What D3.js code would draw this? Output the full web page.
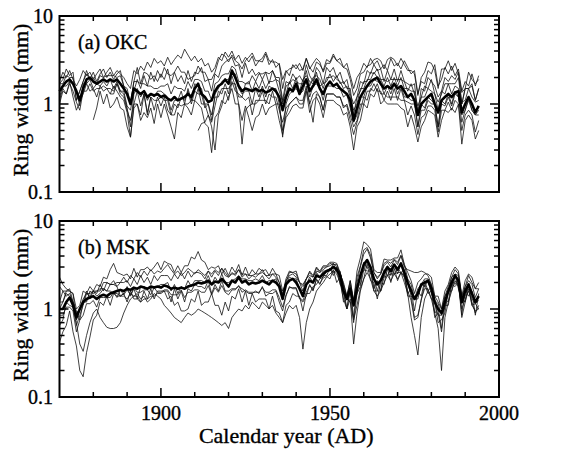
<!DOCTYPE html>
<html><head><meta charset="utf-8">
<script src="https://cdn.jsdelivr.net/npm/d3@7"></script>
<style>html,body{margin:0;padding:0;background:#fff;}svg{display:block;}</style>
</head><body>
<script>
// ---------- DATA ----------
const firstYear = 1870;
const xTickLabels = [1900, 1950, 2000];
const yTickLabels = ["0.1", "1", "10"];
const panelLabels = ["(a) OKC", "(b) MSK"];

// Panel (a) OKC: bold mean chronology, 1870-1994
const okcMean = [1.4,1.6,1.8,1.9,1.7,1.4,1.1,1.5,1.9,2.0, 1.8,1.7,1.8,1.9,1.8,1.9,1.8,1.9,1.7,1.5,
 1.3,1.0,1.5,1.4,1.3,1.4,1.2,1.3,1.25,1.3, 1.2,1.25,1.15,1.1,1.2,1.1,1.15,1.2,1.3,1.2,
 1.5,1.7,1.3,1.2,1.05,1.1,1.4,1.6,1.7,1.9, 1.7,2.4,2.0,1.6,1.4,1.5,1.45,1.4,1.5,1.4,
 1.45,1.35,1.4,1.5,1.4,1.2,0.85,1.2,1.5,1.4, 1.7,1.3,1.6,1.9,1.4,1.6,1.9,1.5,1.3,1.6,
 1.8,1.6,1.7,1.5,1.4,1.3,1.1,0.65,0.9,1.2, 1.4,1.6,1.8,1.9,2.0,1.7,1.5,1.6,1.5,1.7,
 1.5,1.6,1.4,1.2,1.3,1.1,0.75,1.0,1.1,1.2, 1.3,1.0,0.8,1.1,1.2,1.3,1.2,1.35,1.4,0.8,
 1.0,1.2,1.0,0.8,0.95];
// Panel (a) individual trees
const okcTree1 = [1.8,2.3,2.0,2.4,1.9,1.6,1.9,2.4,2.1,2.3, 1.9,2.2,2.5,2.0,2.3,2.6,2.1,2.4,2.2,2.0,
 1.7,1.5,2.4,2.2,2.7,2.4,3.0,2.6,3.3,2.9, 3.1,2.7,3.4,2.8,3.2,3.6,3.3,4.2,3.6,3.1,
 3.5,3.0,3.3,2.7,2.9,2.3,2.6,3.4,3.1,3.9, 3.4,4.0,3.2,3.6,2.9,3.4,3.0,3.5,2.7,3.1,
 3.0,3.7,2.8,3.2,2.6,2.9,1.9,2.4,2.1,2.8, 2.5,2.9,2.4,3.3,2.6,2.3,3.0,2.8,2.4,3.2,
 3.0,3.7,3.1,3.3,2.6,2.9,2.1,1.5,2.0,2.3, 2.9,2.6,3.3,2.8,3.1,2.5,2.8,2.4,3.3,2.7,
 2.9,2.5,3.1,2.6,2.2,2.4,1.3,1.8,1.7,2.4, 2.2,2.8,1.6,1.9,2.6,2.2,2.7,2.1,2.5,1.4,
 1.8,1.6,2.2,1.6,2.1];
const okcTree2 = [1.7,1.9,2.5,2.1,2.3,1.1,1.4,1.8,2.4,1.9, 2.3,1.8,2.2,2.5,2.0,2.3,1.9,2.2,2.4,1.6,
 1.3,1.0,1.8,2.6,1.7,2.3,2.2,1.9,2.1,1.8, 2.2,1.9,2.5,1.7,2.3,1.8,2.1,1.7,2.4,1.8,
 2.3,2.2,2.6,1.8,1.9,1.4,2.2,2.0,2.7,3.0, 3.2,3.4,2.7,2.8,2.0,2.9,2.2,2.5,2.1,2.3,
 1.9,2.3,1.7,2.4,2.0,2.0,1.1,1.8,1.7,2.2, 1.9,2.1,1.8,2.8,2.1,1.8,2.6,2.3,1.7,2.6,
 2.3,2.6,2.0,2.3,1.7,1.9,1.3,1.0,1.2,1.8, 1.7,2.4,2.2,2.8,2.4,2.5,1.8,2.4,1.9,2.5,
 1.8,2.4,1.8,1.7,1.6,1.7,0.8,1.5,1.4,2.0, 1.8,1.6,1.2,1.4,2.0,1.8,2.1,1.9,2.3,1.0,
 1.5,1.5,1.7,1.1,1.5];
const okcTree3 = [1.1,1.5,1.3,1.8,1.2,0.85,1.05,1.3,1.7,1.4, 1.5,1.2,1.6,1.4,1.5,1.3,1.6,1.4,1.2,1.1,
 0.8,0.42,0.9,1.0,0.65,0.8,0.7,0.9,0.6,1.0, 0.7,1.0,0.75,0.55,0.4,0.8,0.7,1.0,0.9,0.75,
 1.1,1.0,0.9,0.6,0.55,0.28,0.7,0.8,1.1,1.0, 1.2,1.5,1.0,1.0,0.65,0.95,0.7,0.5,0.7,0.75,
 1.0,0.75,0.9,0.95,1.0,0.65,0.45,0.7,0.8,0.95, 1.0,0.9,0.9,1.4,0.8,1.1,1.2,1.0,0.7,1.1,
 1.1,1.1,1.0,0.95,0.75,0.8,0.55,0.3,0.55,0.65, 1.0,0.9,1.3,1.2,1.5,1.0,1.1,1.0,1.0,1.0,
 1.0,0.9,0.85,0.55,0.75,0.55,0.37,0.55,0.65,0.85, 0.8,0.75,0.42,0.65,0.85,0.8,0.9,0.8,1.0,0.35,
 0.65,0.75,0.65,0.4,0.5];
const okcTree4Start = 1880;
const okcTree4 = [0.66,0.9,1.4,1.0,1.3,0.9,1.0,1.2,0.9,0.85,
 0.55,0.42,1.0,1.0,0.75,1.3,0.8,1.2,1.1,1.1, 1.2,1.1,1.1,0.75,1.0,0.9,1.2,1.1,1.4,1.0,
 1.4,1.3,1.3,0.9,1.0,0.75,1.2,1.2,1.5,1.5, 1.5,1.7,1.7,1.2,1.2,1.1,1.2,0.75,1.1,1.1,
 1.4,1.0,1.3,1.2,1.2,0.85,0.62,0.9,1.0,1.1, 1.2,1.0,1.0,1.5,1.0,1.3,1.4,1.2,0.85,1.3,
 1.3,1.3,1.2,1.2,0.9,1.0,0.75,0.55,0.65,1.0, 1.0,1.4,1.4,1.7,1.4,1.4,1.1,1.4,1.1,1.5,
 1.1,1.5,1.1,1.05,1.0,1.0,0.55,0.85,0.85,1.1, 1.0,1.0,0.55,1.0,0.95,1.2,0.95,1.3,1.2,0.75,
 0.85,1.1,0.85,0.75,0.75];
const okcTree5Start = 1911;
const okcTree5 = [0.5,0.6,0.62,0.75,0.55,0.3,0.75,0.95,1.4,
 1.1,1.8,1.4,1.3,1.2,1.7,1.7,2.1,1.8,2.2, 2.2,2.3,2.2,2.4,1.9,1.8,1.0,1.6,1.7,1.9,
 1.8,1.7,1.7,2.4,1.6,2.0,2.1,1.9,1.5,2.0, 2.0,2.1,1.9,1.8,1.5,1.6,1.2,0.85,1.0,1.5,
 1.5,1.9,1.9,2.3,2.0,1.9,1.6,2.0,1.6,2.0, 1.6,2.0,1.5,1.5,1.4,1.4,0.75,1.2,1.2,1.5,
 1.4,1.3,0.85,1.4,1.3,1.7,1.3,1.6,1.5,1.05, 1.1,1.5,1.2,1.05,1.1];
const okcTree6 = [1.2,1.6,1.6,1.8,1.7,1.4,0.95,1.7,1.7,1.9, 1.5,1.7,1.6,1.8,1.6,1.9,1.5,1.8,1.4,1.3,
 0.9,0.55,1.3,1.5,1.2,1.4,1.1,1.3,1.2,1.4, 1.4,1.3,1.2,0.85,1.1,1.1,1.4,1.0,1.5,1.1,
 1.7,1.6,1.5,1.0,1.0,0.65,1.3,1.5,1.8,1.9, 1.9,2.3,2.2,1.5,1.3,1.4,1.4,1.0,1.5,1.2,
 1.6,1.2,1.6,1.5,1.5,1.0,0.42,1.0,1.3,1.4, 1.5,1.3,1.4,1.9,1.2,1.6,1.7,1.5,1.1,1.6,
 1.6,1.6,1.5,1.5,1.2,1.3,0.9,0.62,0.75,1.2, 1.2,1.6,1.6,1.9,1.8,1.7,1.3,1.6,1.3,1.7,
 1.3,1.6,1.2,1.2,1.1,1.1,0.55,1.0,0.9,1.2, 1.1,1.0,0.55,1.1,1.0,1.3,1.0,1.4,1.2,0.62,
 0.85,1.2,0.85,0.75,0.85];
const okcTree7 = [1.7,1.7,2.1,2.0,2.0,1.1,1.4,1.8,2.2,1.9, 2.0,1.7,2.1,2.0,2.1,2.1,2.1,2.0,2.1,1.6,
 1.5,1.0,1.8,1.8,1.7,1.7,1.6,1.6,1.5,1.5, 1.6,1.6,1.7,1.3,1.6,1.5,1.5,1.4,1.8,1.5,
 1.9,1.9,1.8,1.4,1.4,1.1,1.7,1.8,2.1,2.2, 2.2,2.7,2.5,1.8,1.8,1.7,1.8,1.4,1.8,1.5,
 1.9,1.5,1.8,1.8,1.9,1.4,1.05,1.3,1.8,1.5, 2.0,1.4,1.9,2.1,1.8,1.7,2.3,1.6,1.7,1.8,
 2.2,1.8,2.1,1.7,1.8,1.5,1.5,0.75,1.2,1.4, 1.8,1.8,2.3,2.2,2.5,1.9,1.9,1.8,1.9,1.9,
 1.9,1.9,1.8,1.4,1.7,1.3,0.95,1.2,1.6,1.5, 1.9,1.3,1.05,1.3,1.7,1.7,1.7,1.7,2.0,1.0,
 1.5,1.5,1.6,1.1,1.5];
const okcTree8 = [1.0,1.4,1.3,1.7,1.4,1.05,0.85,1.4,1.4,1.7, 1.4,1.5,1.5,1.6,1.5,1.5,1.4,1.7,1.3,1.2,
 0.85,0.65,1.0,1.4,0.95,1.3,0.75,1.2,0.85,1.2, 0.95,1.2,0.85,0.75,0.75,1.0,0.95,1.0,1.0,1.1,
 1.1,1.5,1.0,1.0,0.75,0.62,0.95,1.4,1.3,1.7, 1.3,2.1,1.6,1.0,0.35,0.85,0.95,1.0,1.0,1.1,
 1.1,1.1,1.0,1.4,1.0,1.0,0.5,0.75,1.0,1.1, 1.2,1.1,1.1,1.6,1.0,0.62,1.3,1.2,0.85,1.3,
 1.3,1.3,1.2,1.2,0.95,0.95,0.65,0.45,0.62,0.85, 1.2,1.1,1.5,1.4,1.7,1.3,1.3,1.2,1.2,1.2,
 1.2,1.1,1.1,0.75,0.95,0.75,0.45,0.7,0.75,0.95, 0.95,0.85,0.48,0.85,0.85,1.05,0.85,1.1,1.0,0.5,
 0.75,0.85,0.75,0.48,0.65];
const okcTree9Start = 1885;
const okcTree9 = [1.3,1.3,1.7,1.4,1.4,
 0.95,0.85,1.4,1.9,1.5,2.1,1.6,2.3,1.8,2.4, 2.0,2.6,2.2,2.1,2.3,2.7,2.3,2.3,1.9,2.0,
 2.1,2.7,2.3,2.3,1.9,1.9,2.3,3.1,3.7,3.5, 3.0,3.6,3.1,2.9,2.5,3.1,3.4,3.8,3.1,3.1,
 3.3,3.9,3.1,3.0,3.0,2.8,1.5,2.3,2.5,2.6, 2.8,2.4,2.5,3.3,2.5,2.9,3.3,3.0,2.3,2.9,
 2.9,3.5,3.1,2.9,2.6,2.5,1.9,1.25,1.5,2.2, 2.3,2.7,2.8,3.2,3.3,3.1,2.5,3.2,3.4,3.2,
 2.7,3.3,2.8,2.4,2.4,2.2,1.25,2.0,2.3,3.0, 2.9,2.4,1.5,2.5,2.5,3.1,2.4,2.9,2.2,1.35,
 1.5,2.3,1.9,1.7,1.9];

// Panel (b) MSK: bold mean chronology, 1870-1994
const mskMean = [1.0,1.0,1.2,1.35,1.1,0.8,1.0,1.2,1.3,1.35, 1.4,1.3,1.4,1.45,1.4,1.5,1.55,1.6,1.65,1.6,
 1.7,1.65,1.75,1.7,1.8,1.75,1.7,1.8,1.75,1.8, 1.75,1.85,1.8,1.7,1.75,1.7,1.75,1.7,1.8,1.85,
 1.9,2.0,1.95,2.0,2.1,1.9,2.05,2.0,2.2,2.0, 1.8,2.1,2.0,2.3,2.0,2.1,1.9,2.0,1.95,2.0,
 2.1,2.0,1.9,2.1,2.0,1.8,1.3,1.9,2.1,2.2, 2.0,1.7,1.4,1.9,2.1,2.0,2.4,2.3,2.5,2.7,
 2.8,3.0,2.8,2.4,1.6,1.3,1.7,1.1,1.7,2.4, 3.2,3.6,3.0,2.2,1.9,2.1,2.6,3.0,2.7,3.2,
 2.8,3.3,2.6,2.0,1.6,1.3,1.5,1.9,2.0,2.1, 1.7,1.2,1.0,0.9,1.2,1.6,2.0,2.4,2.1,1.2,
 1.6,1.9,1.5,1.2,1.4];
// Panel (b) individual trees
const mskTree1 = [2.3,1.9,1.7,1.6,1.5,1.0,1.1,1.6,1.5,1.8, 1.6,1.9,1.8,2.3,2.2,2.8,3.3,2.6,2.5,2.4,
 2.5,2.2,2.9,2.3,2.8,2.8,3.0,2.7,3.0,3.4, 2.8,3.5,3.3,3.2,2.6,3.1,2.6,3.1,3.1,3.9,
 3.7,4.5,3.6,3.4,2.8,3.0,2.9,3.1,2.5,2.9, 2.4,3.0,2.6,3.2,2.4,3.0,2.4,2.8,2.5,2.9,
 2.7,2.8,2.4,2.9,2.5,2.4,1.6,2.0,2.6,2.6, 2.7,2.0,1.8,2.2,2.6,2.3,2.9,2.6,3.0,3.0,
 3.3,3.2,3.2,2.5,2.0,1.4,2.1,1.2,2.7,3.8, 5.8,5.4,4.8,2.8,2.6,2.6,3.7,3.6,3.6,3.8,
 3.8,4.7,3.2,2.6,2.1,1.5,2.0,2.2,2.5,2.5, 2.3,1.4,1.4,1.0,1.6,1.9,2.6,3.0,2.7,1.4,
 2.1,2.5,2.3,1.7,2.0];
const mskTree2 = [0.42,0.55,0.65,0.95,0.55,0.38,0.2,0.17,0.32,0.48, 0.75,0.85,1.2,1.1,1.4,1.1,1.5,1.4,1.4,1.5,
 1.8,1.4,1.7,1.3,1.8,1.8,1.7,1.7,1.8,1.8, 1.9,1.9,2.0,1.6,1.9,1.5,1.8,1.7,2.1,1.8,
 2.1,2.1,2.1,2.0,2.4,1.9,2.3,2.0,2.5,2.0, 2.0,2.1,2.2,2.4,2.2,2.2,2.1,2.1,2.2,2.1,
 2.4,2.0,2.1,2.1,2.2,1.8,1.4,1.9,2.3,2.2, 2.2,1.7,1.6,1.9,2.3,2.0,2.6,2.3,2.7,2.7,
 2.7,3.3,2.6,2.7,1.6,1.4,1.7,1.1,1.5,2.5, 2.7,3.7,2.5,2.3,1.6,2.2,2.3,3.1,2.4,3.2,
 2.5,3.3,2.3,2.0,1.4,1.3,1.3,1.9,1.8,2.1, 1.5,1.2,0.85,0.85,1.05,1.6,1.8,2.5,1.9,1.15,
 1.4,1.9,1.3,1.15,1.25];
const mskTree3 = [1.0,1.2,1.5,1.4,1.2,0.7,0.4,0.33,0.5,0.7, 0.9,1.0,0.8,0.7,0.62,0.6,0.6,0.62,0.7,0.9,
 1.1,1.3,1.4,1.5,1.3,1.4,1.2,1.3,1.5,1.4, 1.3,1.1,1.0,0.9,0.8,0.75,0.7,0.8,0.9,0.85,
 0.9,1.0,0.95,0.9,0.85,0.8,0.75,0.7,0.65,0.7, 0.6,0.8,0.9,1.0,0.95,1.1,1.0,1.2,1.1,1.0,
 1.2,1.1,1.0,1.1,0.9,0.8,0.7,0.9,1.1,1.0, 1.1,0.8,0.35,0.7,1.0,1.2,1.6,1.8,2.0,2.3,
 2.5,2.7,2.5,2.0,1.3,1.0,1.3,0.4,0.9,1.6, 2.2,2.6,2.2,1.6,1.4,1.6,2.0,2.4,2.1,2.5,
 2.2,2.6,2.0,1.5,0.8,0.5,0.3,0.8,1.3,1.6, 1.3,0.9,0.6,0.2,0.8,1.2,1.6,2.1,1.8,1.0,
 1.3,1.6,1.2,0.9,1.1];
const mskTree4 = [1.2,1.6,1.6,1.7,1.2,0.95,0.75,1.2,1.2,1.6, 1.5,1.6,1.6,2.0,2.0,1.9,1.9,1.8,1.4,1.5,
 1.2,1.6,1.3,1.3,1.2,1.6,1.3,1.7,1.3,1.6, 1.6,1.6,1.3,1.4,1.1,1.2,0.95,0.95,1.0,1.3,
 1.2,1.6,1.1,1.2,1.2,1.5,1.1,1.1,0.85,1.2, 0.95,1.4,1.3,1.7,1.2,1.6,1.1,1.5,1.2,1.3,
 1.3,1.3,1.0,1.4,0.95,0.9,0.7,1.1,1.2,1.5, 1.4,1.4,0.95,1.5,1.5,1.8,1.9,2.2,2.3,2.7,
 2.9,2.6,2.8,2.0,1.5,1.0,1.6,0.7,1.5,1.8, 2.8,2.7,2.7,1.6,1.6,1.6,2.3,2.4,2.5,2.5,
 2.6,2.6,2.3,1.6,1.25,0.75,0.8,1.3,1.7,1.7, 1.3,1.2,0.7,0.75,0.9,1.6,1.6,2.4,1.7,1.3,
 1.2,1.9,1.1,1.15,1.0];
const mskTree5 = [1.8,1.6,1.4,1.5,1.2,0.9,1.0,1.3,1.5,1.4, 1.6,1.4,1.5,1.7,1.6,1.9,2.1,1.8,2.0,2.3,
 2.0,2.4,2.2,2.6,2.3,2.7,2.4,2.8,2.5,2.7, 2.6,2.9,3.2,2.8,2.5,2.7,2.4,2.6,2.9,2.7,
 2.5,2.8,2.6,2.4,2.7,2.5,2.8,2.6,2.9,2.6, 2.3,2.6,2.4,2.8,2.3,2.5,2.2,2.4,2.3,2.5,
 2.6,2.4,2.2,2.5,2.3,2.0,1.4,2.1,2.4,2.5, 2.3,2.0,1.6,2.2,2.4,2.3,2.7,2.6,2.8,3.0,
 3.1,3.3,3.0,2.6,1.8,1.4,1.9,1.2,2.0,3.0, 4.2,4.8,3.8,2.6,2.2,2.5,3.1,3.4,3.0,3.6,
 3.2,4.0,3.0,2.8,2.7,2.6,2.6,2.7,2.6,2.4, 1.9,1.4,1.2,1.0,1.4,1.8,2.3,2.8,2.5,1.4,
 1.8,2.4,2.0,1.7,1.7];
const mskTree6 = [0.65,0.75,1.2,1.1,1.05,0.65,0.85,1.1,1.5,1.5, 1.6,1.6,1.7,1.7,1.6,1.6,1.5,1.5,1.4,1.4,
 1.3,1.5,1.4,1.4,1.2,1.3,1.3,1.4,1.4,1.5, 1.5,1.6,1.6,1.2,1.7,1.3,1.6,1.2,1.7,1.6,
 1.9,1.8,1.8,1.7,2.1,1.5,1.9,1.6,2.1,1.6, 1.6,1.7,1.7,1.8,1.7,1.6,1.5,1.5,1.6,1.5,
 1.8,1.4,1.5,1.5,1.6,1.2,0.95,1.4,1.8,1.7, 1.7,1.3,1.2,1.4,1.9,1.6,2.2,1.9,2.4,2.4,
 2.9,2.4,3.0,1.9,1.7,1.0,1.8,0.8,1.8,1.9, 3.4,2.9,3.1,1.7,2.1,1.6,2.8,2.4,2.9,2.5,
 2.9,2.6,2.8,1.5,1.7,0.95,1.6,1.4,2.1,1.6, 1.8,0.9,1.0,0.6,1.3,1.2,2.1,1.9,2.2,0.85,
 1.7,1.4,1.6,0.85,1.5];
const mskTree7 = [1.2,1.2,1.6,1.6,1.5,0.75,1.0,1.2,1.6,1.3, 1.6,1.5,1.9,1.6,2.0,1.9,1.9,2.0,2.0,2.0,
 2.1,1.8,2.2,1.9,2.4,2.0,2.3,1.9,2.4,2.1, 2.4,2.4,2.4,2.1,2.5,2.2,2.6,2.2,2.7,2.3,
 2.6,2.6,2.5,2.2,2.7,2.3,2.7,2.4,2.9,2.4, 2.3,2.5,2.5,2.8,2.5,2.5,2.4,2.4,2.5,2.5,
 2.8,2.4,2.4,2.5,2.5,2.0,1.5,2.2,2.7,2.6, 2.5,2.0,1.9,2.2,2.7,2.4,3.0,2.7,3.1,3.1,
 3.4,3.4,3.3,2.6,1.9,1.4,2.1,1.25,2.3,3.1, 4.7,5.0,4.1,2.6,2.3,2.5,3.3,3.5,3.3,3.7,
 3.4,4.1,3.2,2.2,1.9,1.3,1.7,1.9,2.2,2.2, 1.9,1.25,1.15,0.85,1.4,1.6,2.3,2.5,2.4,1.25,
 1.8,2.1,1.9,1.35,1.7];
const mskTree8 = [0.85,0.85,1.05,1.05,0.95,0.55,0.75,0.85,1.15,1.15, 1.25,1.05,1.35,1.35,1.35,1.35,1.55,1.35,1.65,1.45,
 1.65,1.45,1.75,1.55,1.55,1.65,1.65,1.45,1.75,1.55, 1.55,1.65,1.65,1.45,1.45,1.45,1.65,1.35,1.55,1.55,
 1.65,1.65,1.55,1.55,1.85,1.45,1.75,1.55,1.85,1.55, 1.45,1.65,1.65,1.85,1.55,1.65,1.55,1.55,1.55,1.55,
 1.75,1.55,1.55,1.65,1.65,1.35,1.05,1.45,1.75,1.75, 1.75,1.35,1.25,1.55,1.85,1.65,2.15,1.95,2.25,2.35,
 2.2,2.8,2.0,2.3,1.2,1.3,1.2,0.75,1.1,1.7, 2.2,3.3,2.1,2.0,1.3,2.0,1.9,2.9,2.0,2.9,
 2.1,2.6,2.4,1.4,1.4,0.8,0.85,1.25,1.9,1.5, 1.6,0.8,0.9,0.55,1.1,1.1,1.9,1.8,2.0,0.8,
 1.2,1.7,1.1,0.95,1.0];

// ---------- DRAWING ----------
const W = 572, H = 450;
const svg = d3.select("body").append("svg").attr("width", W).attr("height", H);
const font = "'Liberation Serif','Times New Roman',serif";

const x = d3.scaleLinear().domain([1870, 2000]).range([59.5, 499]);

function toPoints(vals, start) {
  return vals.map((v, i) => ({ year: (start || firstYear) + i, v: v }));
}

const panels = [
  { top: 16, bottom: 192, label: panelLabels[0], mean: okcMean,
    trees: [[okcTree1], [okcTree2], [okcTree3], [okcTree4, okcTree4Start], [okcTree5, okcTree5Start],
            [okcTree6], [okcTree7], [okcTree8], [okcTree9, okcTree9Start]], xlabels: false },
  { top: 221, bottom: 397, label: panelLabels[1], mean: mskMean,
    trees: [[mskTree1], [mskTree2], [mskTree3], [mskTree4], [mskTree5], [mskTree6], [mskTree7], [mskTree8]],
    xlabels: true }
];

function styleText(sel, size) {
  return sel.attr("font-family", font).attr("font-size", size)
    .attr("fill", "#000").attr("stroke", "#000").attr("stroke-width", 0.35);
}

panels.forEach(p => {
  const y = d3.scaleLog().domain([0.1, 10]).range([p.bottom, p.top]);
  const g = svg.append("g");
  const line = d3.line().x(d => x(d.year)).y(d => y(d.v));

  p.trees.forEach(t => {
    g.append("path").datum(toPoints(t[0], t[1]))
      .attr("d", line).attr("fill", "none").attr("stroke", "#111")
      .attr("stroke-width", 0.8).attr("stroke-linejoin", "miter");
  });
  g.append("path").datum(toPoints(p.mean))
    .attr("d", line).attr("fill", "none").attr("stroke", "#000")
    .attr("stroke-width", 2.6).attr("stroke-linejoin", "round");

  // x ticks (inward, top and bottom)
  const xt = d3.range(1880, 2000, 10);
  xt.forEach(yr => {
    const len = (yr % 50 === 0) ? 9 : 5;
    g.append("line").attr("x1", x(yr)).attr("x2", x(yr)).attr("y1", p.bottom).attr("y2", p.bottom - len)
      .attr("stroke", "#000").attr("stroke-width", 1.5);
    g.append("line").attr("x1", x(yr)).attr("x2", x(yr)).attr("y1", p.top).attr("y2", p.top + len)
      .attr("stroke", "#000").attr("stroke-width", 1.5);
  });
  // y ticks log minor and major
  const yt = [];
  [0.1, 1].forEach(dec => { for (let k = 1; k <= 9; k++) yt.push(dec * k); });
  yt.push(10);
  yt.forEach(v => {
    const major = Math.abs(Math.log10(v) - Math.round(Math.log10(v))) < 1e-6;
    const len = major ? 9 : 5;
    g.append("line").attr("x1", x.range()[0]).attr("x2", x.range()[0] + len).attr("y1", y(v)).attr("y2", y(v))
      .attr("stroke", "#000").attr("stroke-width", 1.5);
    g.append("line").attr("x1", x.range()[1]).attr("x2", x.range()[1] - len).attr("y1", y(v)).attr("y2", y(v))
      .attr("stroke", "#000").attr("stroke-width", 1.5);
  });

  // frame
  g.append("rect").attr("x", x.range()[0]).attr("y", p.top)
    .attr("width", x.range()[1] - x.range()[0]).attr("height", p.bottom - p.top)
    .attr("fill", "none").attr("stroke", "#000").attr("stroke-width", 2);

  // y tick labels
  [0.1, 1, 10].forEach((v, i) => {
    styleText(g.append("text").attr("x", 53).attr("y", y(v)).attr("dy", "0.35em")
      .attr("text-anchor", "end"), 20).text(yTickLabels[i]);
  });

  // panel label
  styleText(g.append("text").attr("x", 78).attr("y", p.top + 33), 20).text(p.label);

  // y title
  const cy = (p.top + p.bottom) / 2 - 4;
  styleText(g.append("text").attr("transform", `translate(28,${cy}) rotate(-90)`)
    .attr("text-anchor", "middle"), 22).text("Ring width (mm)");

  if (p.xlabels) {
    xTickLabels.forEach(yr => {
      styleText(g.append("text").attr("x", x(yr)).attr("y", p.bottom + 23)
        .attr("text-anchor", "middle"), 20).text(yr);
    });
    styleText(g.append("text").attr("x", (x.range()[0] + x.range()[1]) / 2 + 7).attr("y", 443)
      .attr("text-anchor", "middle"), 22).text("Calendar year (AD)");
  }
});
</script>
</body></html>
